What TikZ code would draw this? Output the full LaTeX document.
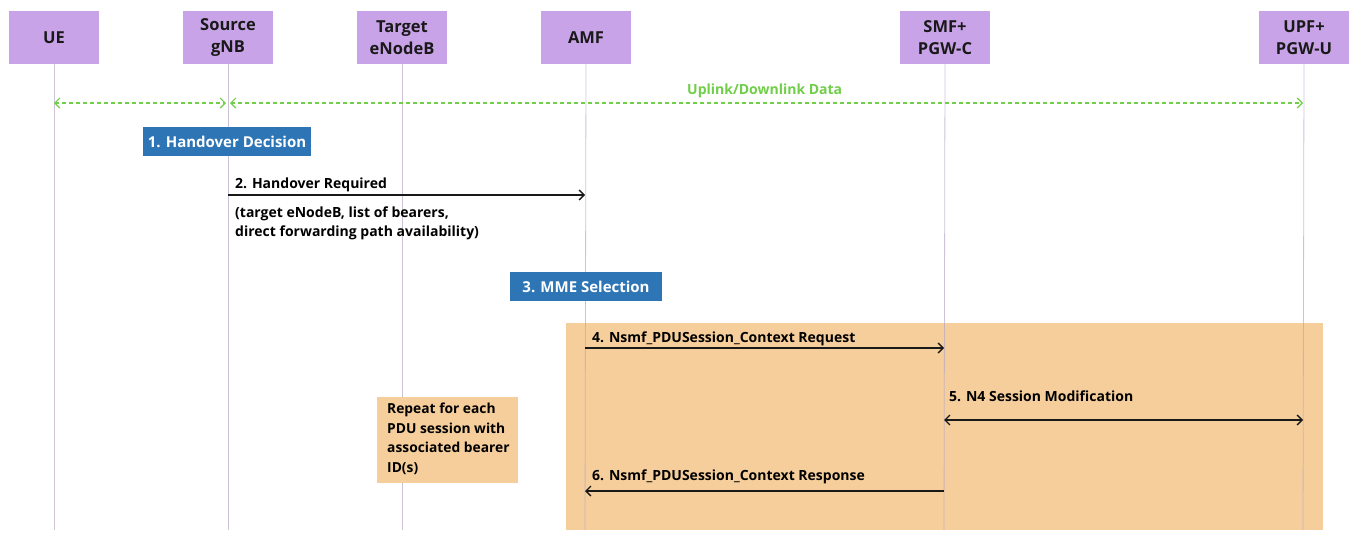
\documentclass[tikz,border=0pt]{standalone}
\usepackage{fontspec}
\setmainfont{Open Sans}
\usetikzlibrary{arrows.meta}
\definecolor{hdr}{RGB}{201,163,232}
\definecolor{blu}{RGB}{46,117,182}
\definecolor{org}{RGB}{245,206,155}
\definecolor{grn}{RGB}{112,206,72}
\definecolor{life}{RGB}{185,170,200}
\begin{document}
\begin{tikzpicture}[x=1pt,y=-1pt,
  hdrbox/.style={fill=hdr, minimum width=90pt, minimum height=53pt, inner sep=0pt, align=center,
    font=\bfseries\fontsize{16.5}{22}\selectfont, text=black!90},
  stepbox/.style={fill=blu, text=white, minimum height=29pt, inner sep=0pt,
    font=\bfseries\fontsize{15}{18}\selectfont},
  lbl/.style={font=\bfseries\fontsize{14}{17}\selectfont, anchor=base west, inner sep=0pt, text=black},
  lifeline/.style={draw=life, line width=0.8pt, opacity=0.7},
  msg/.style={-{Straight Barb[length=5pt,width=10pt]}, line width=1.3pt, black!90},
  bimsg/.style={{Straight Barb[length=5pt,width=10pt]}-{Straight Barb[length=5pt,width=10pt]}, line width=1.3pt, black!90},
  data/.style={{Straight Barb[length=5pt,width=10pt]}-{Straight Barb[length=5pt,width=10pt]}, line width=1.2pt, grn, dash pattern=on 4pt off 3pt}
]
\useasboundingbox (0,0) rectangle (1362,544);
\fill[white] (0,0) rectangle (1362,544);

% headers
\node[hdrbox] (ue)  at (54,37.5)   {UE};
\node[hdrbox] (src) at (228,37.5)  {Source\\gNB};
\node[hdrbox] (tgt) at (402,37.5)  {Target\\eNodeB};
\node[hdrbox] (amf) at (586,37.5)  {AMF};
\node[hdrbox] (smf) at (945,37.5)  {SMF+\\PGW-C};
\node[hdrbox] (upf) at (1304,37.5) {UPF+\\PGW-U};

% orange region
\fill[org] (566,323) rectangle (1323,530);

% lifeline ends
\coordinate (ueE)  at (54,530);
\coordinate (srcE) at (228,530);
\coordinate (tgtE) at (402,530);
\coordinate (amfE) at (585,530);
\coordinate (smfE) at (944,530);
\coordinate (upfE) at (1303,530);
\draw[lifeline] (ue.south) -- (ueE);
\draw[lifeline] (src.south) -- (srcE);
\draw[lifeline] (tgt.south) -- (tgtE);
\draw[lifeline] (amf.south) -- (amfE);
\draw[lifeline] (smf.south) -- (smfE);
\draw[lifeline] (upf.south) -- (upfE);

% data
\coordinate (dUE)  at (54,103);
\coordinate (dSa)  at (226,103);
\coordinate (dSb)  at (230,103);
\coordinate (dUPF) at (1303,103);
\draw[data] (dUE) -- (dSa);
\draw[data] (dSb) -- (dUPF);
\node[lbl, text=grn] (dlbl) at (687,94.5) {Uplink/Downlink Data};

% step 1
\node[stepbox, minimum width=168pt] (s1) at (227,141.5) {1. Handover Decision};

% message 2
\coordinate (m2a) at (228,195);
\coordinate (m2b) at (585,195);
\draw[msg] (m2a) -- (m2b);
\node[lbl] (l2) at (235,188) {2. Handover Required};
\node[lbl] (l2b) at (235,217) {(target eNodeB, list of bearers,};
\node[lbl] (l2c) at (235,236) {direct forwarding path availability)};

% step 3
\node[stepbox, minimum width=152pt] (s3) at (586,286.5) {3. MME Selection};

% repeat note
\fill[org] (377,397) rectangle (518,483);
\node[lbl, align=left, anchor=north west, font=\bfseries\fontsize{13.8}{19.6}\selectfont] (note) at (387,403)
  {Repeat for each\\PDU session with\\associated bearer\\ID(s)};

% message 4
\coordinate (m4a) at (585,348);
\coordinate (m4b) at (944,348);
\draw[msg] (m4a) -- (m4b);
\node[lbl] (l4) at (592,342) {4. Nsmf\_PDUSession\_Context Request};

% message 5
\coordinate (m5a) at (944,420);
\coordinate (m5b) at (1303,420);
\draw[bimsg] (m5a) -- (m5b);
\node[lbl] (l5) at (949,401) {5. N4 Session Modification};

% message 6
\coordinate (m6a) at (944,491);
\coordinate (m6b) at (585,491);
\draw[msg] (m6a) -- (m6b);
\node[lbl] (l6) at (592,480) {6. Nsmf\_PDUSession\_Context Response};
\end{tikzpicture}
\end{document}
